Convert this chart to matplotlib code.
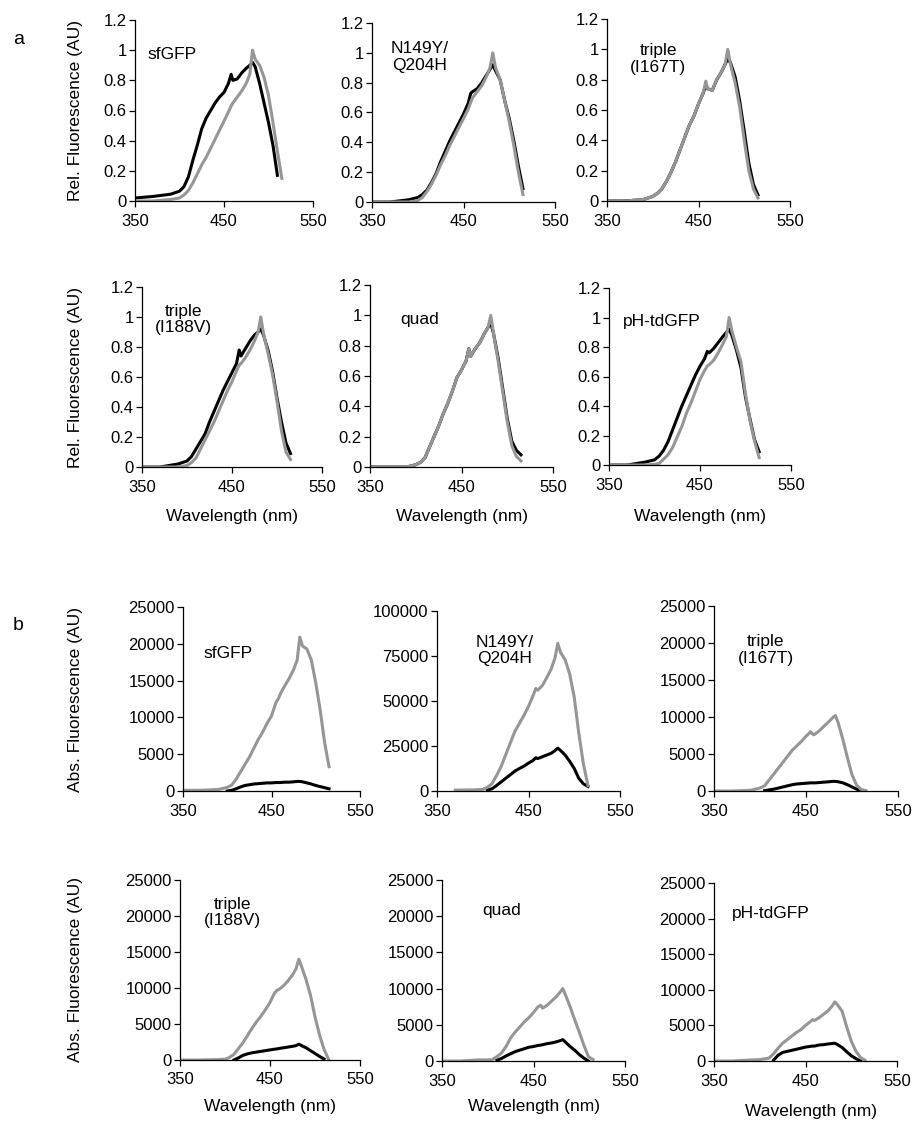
import numpy as np
import matplotlib
matplotlib.use('Agg')
import matplotlib.pyplot as plt
from matplotlib.ticker import FormatStrFormatter

plt.rcParams['font.family'] = ['Liberation Sans', 'DejaVu Sans']

nan = np.nan

# wavelength grid (nm) shared by all traces
wavelength = [350, 370, 390, 400, 405, 410, 415, 420, 425, 430, 435, 440, 445, 450, 455,
              458, 460, 465, 470, 475, 479, 482, 485, 490, 495, 500, 505, 510, 515]

variants = ['sfGFP', 'N149Y/\nQ204H', 'triple\n(I167T)', 'triple\n(I188V)', 'quad', 'pH-tdGFP']

# --- a: relative fluorescence (black / gray traces)
rel_sfgfp_k = [0.02, 0.03, 0.045, 0.065, 0.095, 0.16, 0.27, 0.37, 0.48, 0.55, 0.60, 0.65, 0.69, 0.72, 0.78,
               0.84, 0.80, 0.81, 0.85, 0.88, 0.90, 0.92, 0.89, 0.78, 0.65, 0.52, 0.37, 0.17, nan]
rel_sfgfp_g = [0, 0, 0.01, 0.02, 0.04, 0.07, 0.12, 0.18, 0.24, 0.29, 0.35, 0.41, 0.47, 0.53, 0.59,
               0.63, 0.65, 0.69, 0.73, 0.78, 0.84, 1.0, 0.94, 0.90, 0.82, 0.70, 0.52, 0.33, 0.15]
rel_n149y_k = [0, 0, 0.015, 0.03, 0.05, 0.08, 0.13, 0.19, 0.27, 0.34, 0.41, 0.47, 0.53, 0.59, 0.66,
               0.73, 0.74, 0.76, 0.80, 0.85, 0.89, 0.92, 0.88, 0.82, 0.68, 0.56, 0.41, 0.24, 0.09]
rel_n149y_g = [0, 0, 0, 0.01, 0.03, 0.07, 0.12, 0.18, 0.25, 0.31, 0.38, 0.44, 0.50, 0.56, 0.62,
               0.67, 0.70, 0.74, 0.78, 0.84, 0.90, 1.0, 0.90, 0.82, 0.68, 0.54, 0.38, 0.20, 0.05]
rel_i167t_k = [0, 0, 0.01, 0.03, 0.05, 0.08, 0.13, 0.19, 0.26, 0.34, 0.42, 0.50, 0.56, 0.64, 0.71,
               0.76, 0.74, 0.73, 0.80, 0.85, 0.90, 0.94, 0.91, 0.82, 0.66, 0.46, 0.25, 0.11, 0.04]
rel_i167t_g = [0, 0, 0.01, 0.03, 0.05, 0.08, 0.13, 0.19, 0.26, 0.34, 0.42, 0.50, 0.56, 0.64, 0.71,
               0.79, 0.74, 0.73, 0.80, 0.85, 0.90, 1.0, 0.90, 0.78, 0.62, 0.40, 0.20, 0.08, 0.02]
rel_i188v_k = [0, 0, 0.02, 0.04, 0.07, 0.12, 0.17, 0.22, 0.30, 0.37, 0.44, 0.51, 0.57, 0.63, 0.69,
               0.78, 0.74, 0.79, 0.84, 0.88, 0.90, 0.92, 0.88, 0.78, 0.64, 0.46, 0.30, 0.16, 0.09]
rel_i188v_g = [0, 0, 0, 0.01, 0.03, 0.06, 0.12, 0.18, 0.24, 0.30, 0.37, 0.44, 0.51, 0.57, 0.64,
               0.68, 0.69, 0.73, 0.78, 0.84, 0.90, 1.0, 0.89, 0.76, 0.62, 0.44, 0.24, 0.10, 0.05]
rel_quad_k = [0, 0, 0, 0.015, 0.03, 0.06, 0.13, 0.20, 0.27, 0.35, 0.42, 0.50, 0.59, 0.64, 0.70,
              0.78, 0.73, 0.78, 0.82, 0.88, 0.92, 0.95, 0.88, 0.72, 0.52, 0.32, 0.17, 0.11, 0.08]
rel_quad_g = [0, 0, 0, 0.015, 0.03, 0.06, 0.13, 0.20, 0.27, 0.35, 0.42, 0.50, 0.59, 0.64, 0.70,
              0.78, 0.73, 0.78, 0.82, 0.88, 0.92, 1.0, 0.88, 0.70, 0.50, 0.30, 0.14, 0.07, 0.04]
rel_phtd_k = [0, 0, 0.02, 0.035, 0.06, 0.10, 0.16, 0.24, 0.32, 0.40, 0.47, 0.54, 0.61, 0.67, 0.72,
              0.77, 0.76, 0.79, 0.83, 0.87, 0.90, 0.92, 0.88, 0.78, 0.66, 0.46, 0.31, 0.17, 0.09]
rel_phtd_g = [0, 0, 0, 0.005, 0.01, 0.04, 0.07, 0.12, 0.19, 0.26, 0.35, 0.42, 0.50, 0.58, 0.64,
              0.67, 0.68, 0.71, 0.76, 0.82, 0.87, 1.0, 0.91, 0.80, 0.70, 0.48, 0.30, 0.16, 0.05]

# --- b: absolute fluorescence (black / gray traces)
abs_sfgfp_k = [nan, nan, nan, 0, 100, 300, 550, 750, 850, 950, 1000, 1050, 1100, 1100, 1150,
               1150, 1150, 1200, 1200, 1250, 1300, 1300, 1250, 1100, 950, 750, 600, 450, 300]
abs_sfgfp_g = [100, 100, 200, 500, 800, 1600, 2600, 3600, 4600, 5800, 7000, 8000, 9200, 10200, 12000,
               12600, 13200, 14300, 15300, 16500, 17800, 20900, 19700, 19300, 17800, 14700, 11000, 6600, 3300]
abs_n149y_k = [nan, nan, nan, nan, 500, 1200, 3000, 5000, 7000, 9000, 11000, 12500, 13800, 15500, 17000,
               18500, 18000, 19000, 20000, 21000, 22500, 23800, 22500, 20000, 16500, 12500, 7000, 4000, 2500]
abs_n149y_g = [nan, 500, 600, 900, 2000, 4000, 8500, 13500, 20000, 26500, 33000, 37500, 42000, 47000, 53000,
               57000, 56000, 58500, 63000, 68000, 74000, 82000, 77000, 73000, 65000, 52000, 32000, 15000, 3000]
abs_i167t_k = [nan, nan, nan, nan, 50, 150, 250, 400, 550, 700, 850, 950, 1000, 1050, 1100,
               1100, 1100, 1150, 1200, 1250, 1300, 1300, 1250, 1100, 850, 550, 250, 50, nan]
abs_i167t_g = [0, 0, 100, 400, 700, 1500, 2300, 3100, 3900, 4700, 5500, 6100, 6700, 7400, 8000,
               7600, 7700, 8200, 8800, 9400, 9900, 10200, 9200, 7000, 4500, 2200, 800, 200, 50]
abs_i188v_k = [nan, nan, nan, nan, nan, 0, 300, 650, 850, 1000, 1100, 1200, 1300, 1400, 1500,
               1550, 1600, 1700, 1800, 1900, 2000, 2200, 2000, 1700, 1300, 900, 500, 150, nan]
abs_i188v_g = [0, 0, 50, 100, 350, 800, 1600, 2400, 3400, 4400, 5300, 6100, 7000, 8000, 9300,
               9700, 9800, 10300, 11000, 11800, 12700, 14000, 13000, 11200, 9000, 6000, 3500, 1500, 100]
abs_quad_k = [nan, nan, nan, nan, nan, 100, 350, 700, 1000, 1300, 1500, 1700, 1900, 2000, 2150,
              2200, 2250, 2400, 2500, 2650, 2800, 2950, 2600, 2000, 1500, 900, 400, 0, nan]
abs_quad_g = [0, 0, 150, 150, 200, 600, 1100, 2000, 3200, 4000, 4700, 5400, 6000, 6700, 7500,
              7700, 7300, 7700, 8300, 8900, 9500, 10000, 9100, 7500, 5700, 4000, 2200, 600, 200]
abs_phtd_k = [nan, nan, nan, nan, nan, nan, 100, 800, 1200, 1350, 1500, 1650, 1800, 1950, 2050,
              2100, 2100, 2250, 2300, 2400, 2450, 2500, 2300, 1900, 1300, 750, 350, 0, nan]
abs_phtd_g = [0, 0, 140, 200, 300, 400, 1000, 1800, 2500, 3000, 3500, 4000, 4400, 5000, 5500,
              5800, 5700, 6100, 6600, 7100, 7700, 8300, 7900, 7000, 4800, 2800, 1400, 500, 100]

rel_traces = [(rel_sfgfp_k, rel_sfgfp_g), (rel_n149y_k, rel_n149y_g), (rel_i167t_k, rel_i167t_g),
              (rel_i188v_k, rel_i188v_g), (rel_quad_k, rel_quad_g), (rel_phtd_k, rel_phtd_g)]
abs_traces = [(abs_sfgfp_k, abs_sfgfp_g), (abs_n149y_k, abs_n149y_g), (abs_i167t_k, abs_i167t_g),
              (abs_i188v_k, abs_i188v_g), (abs_quad_k, abs_quad_g), (abs_phtd_k, abs_phtd_g)]
abs_ymax = [25000, 100000, 25000, 25000, 25000, 25000]
abs_ystep = [5000, 25000, 5000, 5000, 5000, 5000]

W, H = 914, 1122
GRAY = '#969696'

# axes boxes in pixels: left, right, top, bottom
rel_boxes = [(135, 313, 20, 201), (372, 555, 23, 202), (607, 790, 19, 201),
             (142, 322, 287, 467), (370, 553, 285, 467), (609, 791, 288, 465)]
abs_boxes = [(183, 360, 607, 791), (437, 620, 611, 791), (714, 898, 606, 791),
             (180, 360, 880, 1060), (442, 625, 880, 1061), (714, 897, 883, 1061)]
# variant label position (axes fraction) and alignment
rel_text = [(0.07, 0.81, 'left'), (0.26, 0.81, 'center'), (0.28, 0.78, 'center'),
            (0.23, 0.82, 'center'), (0.165, 0.81, 'left'), (0.077, 0.81, 'left')]
abs_text = [(0.113, 0.75, 'left'), (0.37, 0.78, 'center'), (0.28, 0.76, 'center'),
            (0.29, 0.82, 'center'), (0.22, 0.83, 'left'), (0.10, 0.83, 'left')]

fig = plt.figure(figsize=(W / 100, H / 100), dpi=100)


def make_axes(box):
    l, r, t, b = box
    return fig.add_axes([l / W, 1 - b / H, (r - l) / W, (b - t) / H])


def style(ax, ymax, ystep, fmt):
    ax.set_xlim(350, 550)
    ax.set_ylim(0, ymax)
    ax.set_xticks([350, 450, 550])
    ax.set_yticks(np.arange(0, ymax + ystep / 2, ystep))
    ax.yaxis.set_major_formatter(FormatStrFormatter(fmt))
    for s in ['top', 'right']:
        ax.spines[s].set_visible(False)
    for s in ['left', 'bottom']:
        ax.spines[s].set_linewidth(0.9)
    ax.tick_params(direction='out', length=4, width=0.9, labelsize=12, colors='black')
    ax.tick_params(axis='x', pad=5)
    ax.tick_params(axis='y', pad=2)


def draw(ax, k, g, label, pos):
    ax.plot(wavelength, k, color='black', lw=2.2)
    ax.plot(wavelength, g, color=GRAY, lw=2.2)
    x, y, ha = pos
    ax.text(x, y, label, transform=ax.transAxes, ha=ha, va='center',
            fontsize=12.5, multialignment='center', linespacing=1.15)


for i in range(6):
    ax = make_axes(rel_boxes[i])
    k, g = rel_traces[i]
    draw(ax, k, g, variants[i], rel_text[i])
    style(ax, 1.2, 0.2, '%g')
    if i % 3 == 0:
        ax.set_ylabel('Rel. Fluorescence (AU)', fontsize=12.5)
        l, r, t, b = rel_boxes[i]
        ax.yaxis.set_label_coords((83 - l) / (r - l), 0.5)
    if i >= 3:
        l, r, t, b = rel_boxes[i]
        ax.set_xlabel('Wavelength (nm)', fontsize=12.5)
        ax.xaxis.set_label_coords(0.5, (b - 509) / (b - t))

for i in range(6):
    ax = make_axes(abs_boxes[i])
    k, g = abs_traces[i]
    draw(ax, k, g, variants[i], abs_text[i])
    style(ax, abs_ymax[i], abs_ystep[i], '%d')
    if i % 3 == 0:
        ax.set_ylabel('Abs. Fluorescence (AU)', fontsize=12.5)
        l, r, t, b = abs_boxes[i]
        ax.yaxis.set_label_coords((83 - l) / (r - l), 0.5)
    if i >= 3:
        l, r, t, b = abs_boxes[i]
        ax.set_xlabel('Wavelength (nm)', fontsize=12.5)
        top = 1104 if i == 5 else 1099
        ax.xaxis.set_label_coords(0.53 if i == 5 else 0.5, (b - top) / (b - t))

fig.text(19 / W, 1 - 39 / H, 'a', fontsize=14, ha='center', va='center')
fig.text(18 / W, 1 - 625 / H, 'b', fontsize=14, ha='center', va='center')

fig.savefig('out.png', dpi=100)
